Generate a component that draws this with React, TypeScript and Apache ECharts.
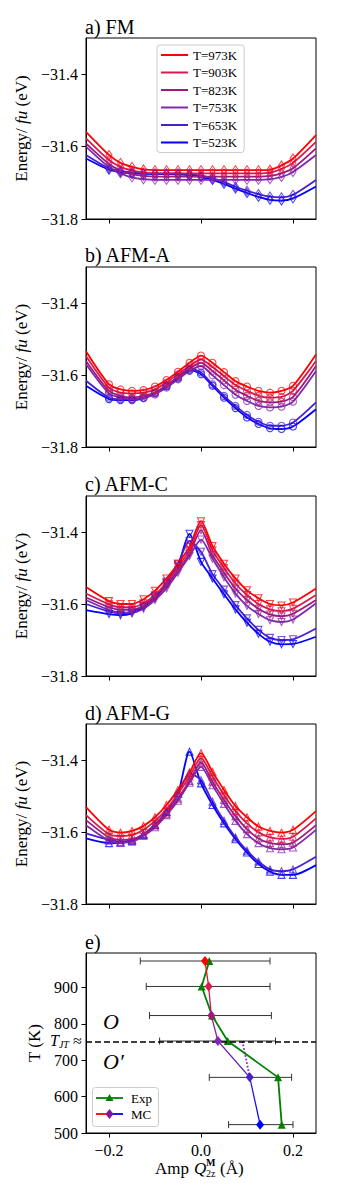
import React, { useEffect, useRef } from "react";
import * as echarts from "echarts";

// ---------- data ----------
const X_PTS = [-0.2, -0.175, -0.15, -0.125, -0.1, -0.075, -0.05, -0.025, 0, 0.025, 0.05, 0.075, 0.1, 0.125, 0.15, 0.175, 0.2];
const X_EDGES = [-0.25, 0.25];
const TEMP_LABELS = ["T=973K", "T=903K", "T=823K", "T=753K", "T=653K", "T=523K"];

// a) FM  (rows: 973, 903, 823, 753, 653, 523 K)
const FM_E = [
  [-31.623, -31.645, -31.656, -31.663, -31.665, -31.665, -31.665, -31.665, -31.665, -31.665, -31.665, -31.665, -31.665, -31.665, -31.664, -31.652, -31.633],
  [-31.637, -31.656, -31.666, -31.672, -31.674, -31.674, -31.674, -31.674, -31.674, -31.674, -31.674, -31.674, -31.674, -31.674, -31.672, -31.662, -31.645],
  [-31.648, -31.666, -31.676, -31.681, -31.683, -31.683, -31.683, -31.683, -31.683, -31.683, -31.683, -31.683, -31.683, -31.683, -31.681, -31.674, -31.66],
  [-31.657, -31.674, -31.685, -31.69, -31.692, -31.692, -31.692, -31.692, -31.692, -31.692, -31.692, -31.692, -31.692, -31.692, -31.69, -31.684, -31.67],
  [-31.66, -31.667, -31.671, -31.673, -31.674, -31.674, -31.674, -31.676, -31.68, -31.687, -31.698, -31.711, -31.722, -31.731, -31.738, -31.74, -31.733],
  [-31.664, -31.671, -31.674, -31.675, -31.676, -31.676, -31.677, -31.679, -31.684, -31.692, -31.703, -31.716, -31.728, -31.739, -31.747, -31.749, -31.743],
];
const FM_EDGE = [[-31.559, -31.568], [-31.577, -31.587], [-31.591, -31.605], [-31.6, -31.623], [-31.623, -31.692], [-31.633, -31.71]];

// b) AFM-A
const AFMA_E = [
  [-31.626, -31.64, -31.644, -31.642, -31.632, -31.614, -31.591, -31.566, -31.546, -31.566, -31.592, -31.617, -31.632, -31.644, -31.649, -31.644, -31.63],
  [-31.635, -31.649, -31.651, -31.649, -31.64, -31.621, -31.598, -31.575, -31.557, -31.578, -31.603, -31.628, -31.644, -31.658, -31.663, -31.661, -31.644],
  [-31.644, -31.658, -31.663, -31.658, -31.649, -31.628, -31.605, -31.582, -31.566, -31.589, -31.615, -31.641, -31.658, -31.672, -31.676, -31.674, -31.661],
  [-31.651, -31.663, -31.667, -31.664, -31.654, -31.635, -31.612, -31.589, -31.575, -31.601, -31.628, -31.655, -31.672, -31.686, -31.69, -31.688, -31.674],
  [-31.663, -31.667, -31.667, -31.663, -31.649, -31.63, -31.607, -31.582, -31.593, -31.626, -31.658, -31.686, -31.711, -31.73, -31.741, -31.741, -31.732],
  [-31.667, -31.67, -31.67, -31.664, -31.651, -31.632, -31.61, -31.586, -31.598, -31.63, -31.663, -31.692, -31.718, -31.736, -31.748, -31.75, -31.743],
];
const AFMA_EDGE = [[-31.534, -31.543], [-31.547, -31.561], [-31.561, -31.575], [-31.57, -31.589], [-31.616, -31.676], [-31.63, -31.695]];

// c) AFM-C
const AFMC_E = [
  [-31.592, -31.6, -31.6, -31.587, -31.563, -31.529, -31.488, -31.441, -31.37, -31.439, -31.488, -31.529, -31.562, -31.584, -31.6, -31.604, -31.596],
  [-31.601, -31.609, -31.609, -31.598, -31.575, -31.541, -31.497, -31.451, -31.381, -31.451, -31.5, -31.543, -31.575, -31.6, -31.615, -31.62, -31.613],
  [-31.609, -31.616, -31.616, -31.605, -31.584, -31.55, -31.506, -31.46, -31.395, -31.464, -31.513, -31.557, -31.589, -31.613, -31.629, -31.634, -31.627],
  [-31.617, -31.624, -31.624, -31.613, -31.589, -31.557, -31.513, -31.467, -31.421, -31.474, -31.526, -31.571, -31.605, -31.628, -31.645, -31.65, -31.643],
  [-31.621, -31.626, -31.621, -31.605, -31.578, -31.538, -31.488, -31.425, -31.455, -31.517, -31.56, -31.603, -31.64, -31.672, -31.694, -31.7, -31.698],
  [-31.628, -31.631, -31.626, -31.609, -31.582, -31.543, -31.493, -31.405, -31.483, -31.529, -31.573, -31.615, -31.652, -31.683, -31.705, -31.712, -31.711],
];
const AFMC_EDGE = [[-31.553, -31.557], [-31.571, -31.575], [-31.582, -31.589], [-31.589, -31.598], [-31.6, -31.668], [-31.617, -31.691]];

// d) AFM-G
const AFMG_E = [
  [-31.594, -31.602, -31.597, -31.583, -31.559, -31.525, -31.483, -31.435, -31.381, -31.433, -31.483, -31.528, -31.559, -31.585, -31.597, -31.602, -31.594],
  [-31.606, -31.611, -31.609, -31.594, -31.569, -31.537, -31.494, -31.446, -31.395, -31.446, -31.497, -31.542, -31.576, -31.601, -31.615, -31.619, -31.613],
  [-31.615, -31.622, -31.62, -31.606, -31.581, -31.549, -31.507, -31.458, -31.407, -31.46, -31.511, -31.556, -31.592, -31.618, -31.631, -31.634, -31.63],
  [-31.624, -31.63, -31.627, -31.611, -31.587, -31.553, -31.513, -31.463, -31.419, -31.47, -31.522, -31.569, -31.606, -31.631, -31.645, -31.648, -31.643],
  [-31.622, -31.627, -31.622, -31.606, -31.579, -31.544, -31.494, -31.437, -31.456, -31.516, -31.569, -31.615, -31.652, -31.682, -31.704, -31.709, -31.704],
  [-31.631, -31.63, -31.625, -31.608, -31.581, -31.544, -31.493, -31.377, -31.465, -31.525, -31.576, -31.62, -31.657, -31.689, -31.71, -31.719, -31.719],
];
const AFMG_EDGE = [[-31.531, -31.542], [-31.553, -31.562], [-31.567, -31.581], [-31.581, -31.594], [-31.604, -31.669], [-31.618, -31.692]];

// e) amplitude vs temperature
const E_TEMPS = [973, 903, 823, 753, 653, 523];
const MC_AMP = [0.0087, 0.0166, 0.0224, 0.0368, 0.106, 0.1285];
const EXP_AMP = [0.018, 0.0014, 0.024, 0.058, 0.1675, 0.1755];
const ERR_LO = [-0.132, -0.119, -0.112, -0.09, 0.018, 0.06];
const ERR_HI = [0.15, 0.15, 0.153, 0.162, 0.197, 0.2];
const DOT_AMP = [0.09, 0.106];
const DOT_T = [753, 653];
const T_JT = 750;
const E_YTICKS = [500, 600, 700, 800, 900];
const X_TICKS = [-0.2, 0, 0.2];
const Y_TICKS = [-31.8, -31.6, -31.4];

// ---------- styles ----------
const FONT = "'Liberation Serif', 'DejaVu Serif', serif";
const COLORS = ["#ff0000", "#d81b4e", "#a01a7a", "#8028b0", "#4a1fd0", "#0000ff"];

function fmt(v: number, d: number) {
  const s = Math.abs(v).toFixed(d);
  return v < -1e-9 ? "\u2212" + s : s;
}

function buildOption() {
  const panels = [
    { data: FM_E, edges: FM_EDGE, symbol: "diamond", size: [6, 9], rotate: 0, title: "a) FM", top: 38, h: 181, tTop: 17 },
    { data: AFMA_E, edges: AFMA_EDGE, symbol: "circle", size: 7, rotate: 0, title: "b) AFM-A", top: 267, h: 180, tTop: 245 },
    { data: AFMC_E, edges: AFMC_EDGE, symbol: "triangle", size: 7, rotate: 180, title: "c) AFM-C", top: 496, h: 180, tTop: 474 },
    { data: AFMG_E, edges: AFMG_EDGE, symbol: "triangle", size: 7, rotate: 0, title: "d) AFM-G", top: 724, h: 180, tTop: 703 },
  ];
  const grids: any[] = [];
  const xAxes: any[] = [];
  const yAxes: any[] = [];
  const series: any[] = [];
  const titles: any[] = [];

  const axisCommon = {
    axisLine: { show: true, onZero: false, lineStyle: { color: "#000", width: 1 } },
    splitLine: { show: false },
  };

  panels.forEach((p, pi) => {
    grids.push({ left: 86, top: p.top, width: 230, height: p.h, show: true, borderColor: "#000", borderWidth: 1, backgroundColor: "transparent" });
    titles.push({ text: p.title, left: 85, top: p.tTop, padding: 0, textStyle: { fontFamily: FONT, fontSize: 20, fontWeight: "normal", color: "#000" } });
    xAxes.push({
      ...axisCommon, type: "value", gridIndex: pi, min: -0.25, max: 0.25,
      axisTick: { show: true, customValues: X_TICKS, length: 4.5, lineStyle: { color: "#000" } },
      axisLabel: { show: false },
    });
    yAxes.push({
      ...axisCommon, type: "value", gridIndex: pi, min: -31.8, max: -31.3,
      axisTick: { show: true, customValues: Y_TICKS, length: 4.5, lineStyle: { color: "#000" } },
      axisLabel: { show: true, customValues: Y_TICKS, formatter: (v: number) => fmt(v, 1), fontFamily: FONT, fontSize: 16, color: "#000", margin: 8 },
      name: "Energy/ {i|fu} (eV)", nameLocation: "middle", nameGap: 54, nameRotate: 90,
      nameTextStyle: { fontFamily: FONT, fontSize: 17, color: "#000", rich: { i: { fontFamily: FONT, fontSize: 17, fontStyle: "italic", color: "#000" } } },
    });
    for (let k = 5; k >= 0; k--) {
      const lineData = [[X_EDGES[0], p.edges[k][0]], ...X_PTS.map((x, i) => [x, p.data[k][i]]), [X_EDGES[1], p.edges[k][1]]];
      series.push({
        type: "line", name: TEMP_LABELS[k], xAxisIndex: pi, yAxisIndex: pi, data: lineData,
        showSymbol: false, symbol: "none", smooth: 0.25,
        lineStyle: { color: COLORS[k], width: 1.8 }, itemStyle: { color: COLORS[k] }, z: 2,
      });
      series.push({
        type: "scatter", xAxisIndex: pi, yAxisIndex: pi, data: X_PTS.map((x, i) => [x, p.data[k][i]]),
        symbol: p.symbol, symbolSize: p.size, symbolRotate: p.rotate,
        itemStyle: { color: "rgba(255,255,255,0)", borderColor: COLORS[k], borderWidth: 1.1, opacity: 0.75 }, z: 3,
      });
    }
  });

  // panel e
  const ei = 4;
  grids.push({ left: 86, top: 953, width: 230, height: 180, show: true, borderColor: "#000", borderWidth: 1, backgroundColor: "transparent" });
  titles.push({ text: "e)", left: 85, top: 932, padding: 0, textStyle: { fontFamily: FONT, fontSize: 20, fontWeight: "normal", color: "#000" } });
  xAxes.push({
    ...axisCommon, type: "value", gridIndex: ei, min: -0.25, max: 0.25,
    axisTick: { show: true, customValues: X_TICKS, length: 4.5, lineStyle: { color: "#000" } },
    axisLabel: { show: true, customValues: X_TICKS, formatter: (v: number) => fmt(v, 1), fontFamily: FONT, fontSize: 16, color: "#000", margin: 9 },
  });
  yAxes.push({
    ...axisCommon, type: "value", gridIndex: ei, min: 500, max: 995,
    axisTick: { show: true, customValues: E_YTICKS, length: 4.5, lineStyle: { color: "#000" } },
    axisLabel: { show: true, customValues: E_YTICKS, formatter: (v: number) => String(v), fontFamily: FONT, fontSize: 16, color: "#000", margin: 8 },
    name: "T (K)", nameLocation: "middle", nameGap: 42, nameRotate: 90,
    nameTextStyle: { fontFamily: FONT, fontSize: 17, color: "#000" },
  });

  const span = E_TEMPS[0] - E_TEMPS[E_TEMPS.length - 1];
  const grad = new echarts.graphic.LinearGradient(0, 0, 0, 1,
    E_TEMPS.map((t, i) => ({ offset: (E_TEMPS[0] - t) / span, color: COLORS[i] })));

  series.push({
    type: "custom", xAxisIndex: ei, yAxisIndex: ei,
    data: E_TEMPS.map((t, i) => [ERR_LO[i], ERR_HI[i], t]),
    encode: { x: [0, 1], y: 2 },
    renderItem: (params: any, api: any) => {
      const a = api.coord([api.value(0), api.value(2)]);
      const b = api.coord([api.value(1), api.value(2)]);
      const st = { stroke: "#333", lineWidth: 1 };
      return {
        type: "group",
        children: [
          { type: "line", shape: { x1: a[0], y1: a[1], x2: b[0], y2: b[1] }, style: st },
          { type: "line", shape: { x1: a[0], y1: a[1] - 3.5, x2: a[0], y2: a[1] + 3.5 }, style: st },
          { type: "line", shape: { x1: b[0], y1: b[1] - 3.5, x2: b[0], y2: b[1] + 3.5 }, style: st },
        ],
      };
    },
    z: 2,
  });
  series.push({
    type: "line", name: "Tjt", xAxisIndex: ei, yAxisIndex: ei, data: [],
    markLine: {
      silent: true, symbol: "none", label: { show: false },
      lineStyle: { color: "#000", type: [6, 3], width: 1.6 },
      data: [{ yAxis: T_JT }],
    },
    z: 2,
  });
  series.push({
    type: "line", xAxisIndex: ei, yAxisIndex: ei,
    data: DOT_AMP.map((a, i) => [a, DOT_T[i]]),
    symbol: "none", lineStyle: { color: "#8a30c8", type: "dotted", width: 1.8 }, z: 3,
  });
  series.push({
    type: "line", name: "Exp", xAxisIndex: ei, yAxisIndex: ei,
    data: EXP_AMP.map((a, i) => [a, E_TEMPS[i]]),
    symbol: "triangle", symbolSize: 8, showSymbol: true,
    lineStyle: { color: "#008000", width: 1.8 }, itemStyle: { color: "#008000" }, z: 4,
  });
  series.push({
    type: "line", name: "MC", xAxisIndex: ei, yAxisIndex: ei,
    data: MC_AMP.map((a, i) => ({ value: [a, E_TEMPS[i]], itemStyle: { color: COLORS[i] } })),
    symbol: "diamond", symbolSize: [8, 10], showSymbol: true,
    lineStyle: { color: grad, width: 1.3 }, z: 5,
  });

  const graphic: any[] = [
    { type: "text", left: 103, top: 1010, style: { text: "O", fontFamily: FONT, fontSize: 22, fontStyle: "italic", fill: "#000" } },
    { type: "text", left: 103, top: 1050, style: { text: "O\u2032", fontFamily: FONT, fontSize: 22, fontStyle: "italic", fill: "#000" } },
    {
      type: "text", x: 50, y: 1040,
      style: {
        text: "{i|T}{s|JT} \u2248", fontFamily: FONT, fontSize: 16, fill: "#000", verticalAlign: "middle",
        rich: { i: { fontFamily: FONT, fontSize: 16, fontStyle: "italic" }, s: { fontFamily: FONT, fontSize: 10, fontStyle: "italic", padding: [9, 0, 0, 0] } },
      },
    },
    // panel e legend
    { type: "rect", shape: { x: 92.5, y: 1087.5, width: 66, height: 39, r: 3 }, style: { fill: "rgba(255,255,255,0.85)", stroke: "#ccc", lineWidth: 1 }, z: 10 },
    { type: "line", shape: { x1: 96, y1: 1098, x2: 123, y2: 1098 }, style: { stroke: "#008000", lineWidth: 1.8 }, z: 11 },
    { type: "polygon", shape: { points: [[109.5, 1094], [105.5, 1101], [113.5, 1101]] }, style: { fill: "#008000" }, z: 11 },
    { type: "text", x: 131, y: 1098, style: { text: "Exp", fontFamily: FONT, fontSize: 13, fill: "#000", verticalAlign: "middle" }, z: 11 },
    { type: "line", shape: { x1: 96, y1: 1114, x2: 109.5, y2: 1114 }, style: { stroke: "#ff0000", lineWidth: 1.8 }, z: 11 },
    { type: "line", shape: { x1: 109.5, y1: 1114, x2: 123, y2: 1114 }, style: { stroke: "#0000ff", lineWidth: 1.8 }, z: 11 },
    { type: "polygon", shape: { points: [[109.5, 1109], [113.5, 1114], [109.5, 1119], [105.5, 1114]] }, style: { fill: "#7a1a9a" }, z: 11 },
    { type: "text", x: 131, y: 1114, style: { text: "MC", fontFamily: FONT, fontSize: 13, fill: "#000", verticalAlign: "middle" }, z: 11 },
    // x axis label of panel e
    { type: "text", x: 155, y: 1168, style: { text: "Amp", fontFamily: FONT, fontSize: 17, fill: "#000", verticalAlign: "middle" } },
    { type: "text", x: 194, y: 1168, style: { text: "Q", fontFamily: FONT, fontSize: 17, fontStyle: "italic", fill: "#000", verticalAlign: "middle" } },
    { type: "text", x: 206, y: 1162, style: { text: "M", fontFamily: FONT, fontSize: 10, fontWeight: "bold", fill: "#000", verticalAlign: "middle" } },
    { type: "text", x: 206, y: 1173, style: { text: "2z", fontFamily: FONT, fontSize: 10, fill: "#000", verticalAlign: "middle" } },
    { type: "text", x: 220, y: 1168, style: { text: "(\u00c5)", fontFamily: FONT, fontSize: 17, fill: "#000", verticalAlign: "middle" } },
  ];

  return {
    animation: false,
    backgroundColor: "#fff",
    title: titles,
    grid: grids,
    xAxis: xAxes,
    yAxis: yAxes,
    legend: {
      data: TEMP_LABELS, orient: "vertical", left: 157, top: 45, icon: "rect",
      itemWidth: 27, itemHeight: 2, itemGap: 3.5, padding: [3, 7, 3, 4],
      borderColor: "#ccc", borderWidth: 1, borderRadius: 3, backgroundColor: "#fff",
      textStyle: { fontFamily: FONT, fontSize: 13, color: "#000", lineHeight: 14 },
      selectedMode: false,
    },
    series,
    graphic,
  };
}

export default function App() {
  const ref = useRef<HTMLDivElement>(null);
  useEffect(() => {
    const chart = echarts.init(ref.current as HTMLDivElement, null, { renderer: "svg" });
    chart.setOption(buildOption() as any);
    return () => chart.dispose();
  }, []);
  return <div ref={ref} style={{ position: "absolute", left: 0, top: 0, width: 337, height: 1197, background: "#fff" }} />;
}
